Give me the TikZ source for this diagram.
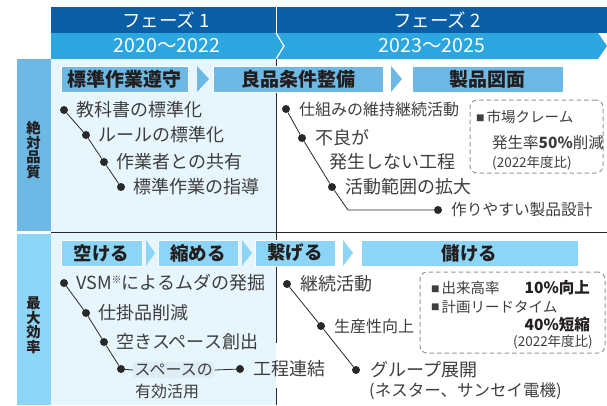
\documentclass[tikz,border=0pt]{standalone}
\usepackage{fontspec}
\setmainfont{Noto Sans CJK JP}
\definecolor{darkband}{RGB}{10,94,166}
\definecolor{midband}{RGB}{44,166,223}
\definecolor{labA}{RGB}{109,185,230}
\definecolor{labB}{RGB}{140,213,246}
\definecolor{panel}{RGB}{231,245,253}
\definecolor{spbg}{RGB}{221,236,245}
\definecolor{textgrey}{RGB}{62,62,62}
\definecolor{textdark}{RGB}{35,30,30}
\definecolor{linec}{RGB}{40,40,40}
\definecolor{dashc}{RGB}{150,150,150}
\begin{document}
\begin{tikzpicture}[x=1pt,y=-1pt,
  fsz/.style={font=\fontsize{#1}{#1}\selectfont},
  item/.style={anchor=west,inner sep=0pt,text=textgrey,fsz=#1},
  item/.default=18,
  dot/.style={circle,fill=linec,inner sep=0pt,minimum size=8pt},
  link/.style={draw=linec,line width=0.8pt},
  stepbox/.style={draw=white,line width=0.8pt,text=textdark,inner sep=0pt,minimum height=26pt,font=\bfseries\fontsize{#1}{#1}\selectfont},
  hdr/.style={text=white,inner sep=0pt,fsz=#1},
  vlab/.style={text=textdark,inner sep=0pt,font=\bfseries\fontsize{14.3}{14.3}\selectfont},
  dbox/.style={draw=dashc,dashed,dash pattern=on 4.5pt off 3pt,line width=1pt,rounded corners=7pt},
  note/.style={inner sep=0pt,text=textgrey,fsz=#1}
]
\useasboundingbox (0,0) rectangle (607,405);
% header bands
\fill[darkband] (51,7) rectangle (607,33);
\fill[midband] (51,33) -- (598,33) -- (607,46) -- (598,59) -- (51,59) -- cycle;
\draw[white,line width=0.8pt] (276,7) -- (276,33);
\draw[white,line width=1.2pt] (276,33) -- (284,46) -- (276,59);
\node[hdr=18.5] (h1) at (166,20) {フェーズ 1};
\node[hdr=18.5] (h2) at (437,20) {フェーズ 2};
\node[hdr=19.5] (y1) at (167,46) {2020〜2022};
\node[hdr=19.5] (y2) at (432,46) {2023〜2025};
% panels
\fill[panel] (51,59) rectangle (276,405);
\fill[labA] (17,59) rectangle (51,230.5);
\fill[labB] (17,233.5) rectangle (51,405);
\draw[linec,line width=0.9pt] (51,232.5) -- (607,232.5);
\coordinate (v1) at (276,59);
\coordinate (v2) at (276,343);
\coordinate (v3) at (276,388);
\coordinate (v4) at (276,405);
\draw[linec,line width=0.9pt] (v1) -- (v2) (v3) -- (v4);
\node[vlab] (L1a) at (33.5,128.2) {絶};
\node[vlab] (L1b) at (33.5,142.7) {対};
\node[vlab] (L1c) at (33.5,157.2) {品};
\node[vlab] (L1d) at (33.5,171.7) {質};
\node[vlab] (L2a) at (33.5,303.2) {最};
\node[vlab] (L2b) at (33.5,317.7) {大};
\node[vlab] (L2c) at (33.5,332.2) {効};
\node[vlab] (L2d) at (33.5,346.7) {率};
% row 1 steps
\node[stepbox=19,fill=labA,minimum width=127pt] (s11) at (124.5,79) {標準作業遵守};
\node[stepbox=19,fill=labA,minimum width=170pt] (s12) at (298,79) {良品条件整備};
\node[stepbox=19,fill=labA,minimum width=151pt] (s13) at (487.5,79) {製品図面};
\fill[labA] (197,66) -- (209,79) -- (197,92) -- cycle;
\fill[labA] (391,66) -- (402,79) -- (391,92) -- cycle;
% row 2 steps
\node[stepbox=18.5,fill=labB,minimum width=81pt] (s21) at (101.5,253) {空ける};
\node[stepbox=18.5,fill=labB,minimum width=80pt] (s22) at (198,253) {縮める};
\node[stepbox=18.5,fill=labB,minimum width=80pt] (s23) at (295,253) {繋げる};
\node[stepbox=18.5,fill=labB,minimum width=217pt] (s24) at (469.5,253) {儲ける};
\fill[labB] (146,240) -- (155,253) -- (146,266) -- cycle;
\fill[labB] (242,240) -- (252,253) -- (242,266) -- cycle;
\fill[labB] (343,240) -- (353,253) -- (343,266) -- cycle;
% phase 1, row 1
\node[dot] (a1) at (64,110) {};
\node[dot] (a2) at (86,135) {};
\node[dot] (a3) at (104,162) {};
\node[dot] (a4) at (121,187) {};
\draw[link] (a1) -- (a2) -- (a3) -- (a4);
\node[item] (ta1) at (76,110) {教科書の標準化};
\node[item] (ta2) at (98,135) {ルールの標準化};
\node[item] (ta3) at (116,162) {作業者との共有};
\node[item] (ta4) at (133,187) {標準作業の指導};
% phase 2, row 1
\node[dot] (b1) at (286,109) {};
\node[dot] (b2) at (302,138) {};
\node[dot] (b3) at (332,187) {};
\node[dot] (b4) at (438,210) {};
\coordinate (bc) at (348,210);
\draw[link] (b1) -- (b2) -- (b3) -- (bc) -- (b4);
\node[item=16] (tb1) at (299,109) {仕組みの維持継続活動};
\node[item] (tb2) at (315,138) {不良が};
\node[item] (tb2b) at (329,162) {発生しない工程};
\node[item] (tb3) at (345,187) {活動範囲の拡大};
\node[item=15.7] (tb4) at (451,210) {作りやすい製品設計};
% note box 1
\node[dbox,minimum width=133pt,minimum height=73pt] (n1) at (536.5,136.5) {};
\node[note=14.5,anchor=west] (n1a) at (476,117) {\raisebox{1.5pt}{\fontsize{8.5}{8.5}\selectfont ■}\hspace{2pt}市場クレーム};
\node[note=15.5,anchor=west] (n1b) at (492,143) {発生率\textbf{50\%}削減};
\node[note=13.5,anchor=west] (n1c) at (492,163) {(2022年度比)};
% phase 1, row 2
\node[dot] (c1) at (64,283) {};
\node[dot] (c2) at (86,313) {};
\node[dot] (c3) at (104,342) {};
\node[dot] (c4) at (121,369) {};
\draw[link] (c1) -- (c2) -- (c3) -- (c4);
\node[item] (tc1) at (76,283) {VSM\raisebox{6pt}{\fontsize{10}{10}\selectfont ※}によるムダの発掘};
\node[item] (tc2) at (98,313) {仕掛品削減};
\node[item] (tc3) at (116,342) {空きスペース創出};
\node[item=16,fill=spbg,inner sep=1.5pt] (tc4) at (133,370) {スペースの};
\node[item=16] (tc4b) at (135,391) {有効活用};
\draw[link] (c4) -- (tc4.west);
\node[dot] (c5) at (240,369) {};
\draw[link] (tc4.east) -- (c5);
\node[item] (tc5) at (253,369) {工程連結};
% phase 2, row 2
\node[dot] (d1) at (287,284) {};
\node[dot] (d2) at (321,326) {};
\node[dot] (d3) at (356,370) {};
\draw[link] (d1) -- (d2) -- (d3);
\node[item] (td1) at (300,284) {継続活動};
\node[item=16] (td2) at (334,326) {生産性向上};
\node[item] (td3) at (370,370) {グループ展開};
\node[item=16.5] (td3b) at (369,391) {(ネスター、サンセイ電機)};
% note box 2
\node[dbox,minimum width=185pt,minimum height=81pt] (n2) at (512.5,312.5) {};
\node[note=14.5,anchor=west] (n2a) at (431,288) {\raisebox{1.5pt}{\fontsize{8.5}{8.5}\selectfont ■}\hspace{2pt}出来高率};
\node[note=15.5,anchor=east,text=textdark] (n2b) at (590,288) {\textbf{10\%向上}};
\node[note=14.5,anchor=west] (n2c) at (431,307) {\raisebox{1.5pt}{\fontsize{8.5}{8.5}\selectfont ■}\hspace{2pt}計画リードタイム};
\node[note=15.5,anchor=east,text=textdark] (n2d) at (590,325) {\textbf{40\%短縮}};
\node[note=13.5,anchor=east] (n2e) at (593,342) {(2022年度比)};
\end{tikzpicture}
\end{document}
